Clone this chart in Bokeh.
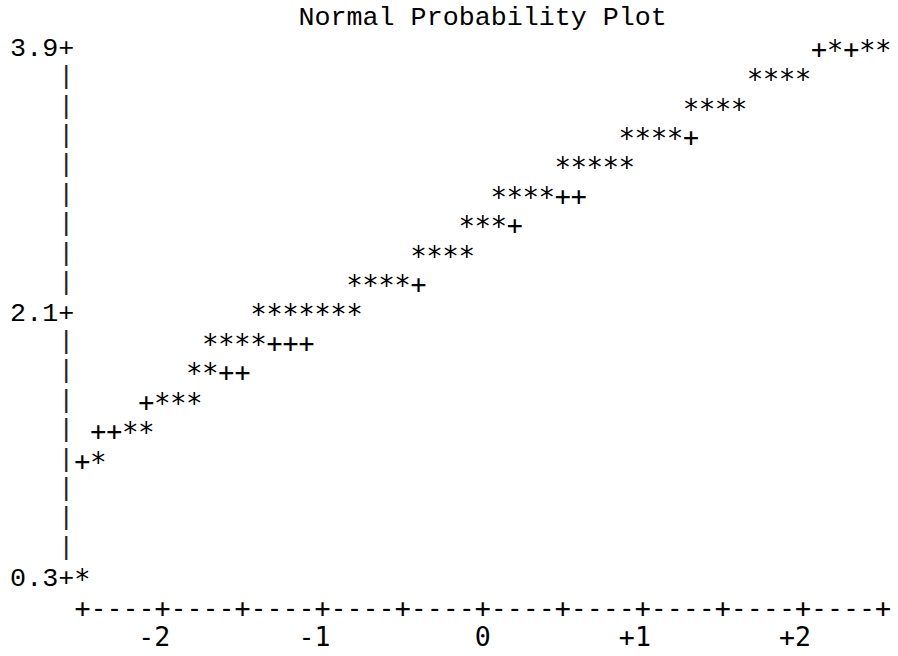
import numpy as np
from bokeh.plotting import figure
from bokeh.models import Range1d
from bokeh.embed import file_html
from bokeh.resources import INLINE
from bokeh.core.properties import value

TITLE = "Normal Probability Plot"

# labelled y ticks (data values)
y_ticks = [3.9, 2.1, 0.3]
y_tick_labels = ["3.9", "2.1", "0.3"]
# x axis: normal quantiles
x_ticks = [-2, -1, 0, 1, 2]
x_tick_labels = ["-2", "-1", "0", "+1", "+2"]

# observed data points ('*'): normal quantile, value
star_q = [2.2, 2.4, 2.5,
          1.7, 1.8, 1.9, 2.0,
          1.3, 1.4, 1.5, 1.6,
          0.9, 1.0, 1.1, 1.2,
          0.5, 0.6, 0.7, 0.8, 0.9,
          0.1, 0.2, 0.3, 0.4,
          -0.1, 0.0, 0.1,
          -0.4, -0.3, -0.2, -0.1,
          -0.8, -0.7, -0.6, -0.5,
          -1.4, -1.3, -1.2, -1.1, -1.0, -0.9, -0.8,
          -1.7, -1.6, -1.5, -1.4,
          -1.8, -1.7,
          -2.0, -1.9, -1.8,
          -2.2, -2.1,
          -2.4,
          -2.5]
star_v = [3.9, 3.9, 3.9,
          3.7, 3.7, 3.7, 3.7,
          3.5, 3.5, 3.5, 3.5,
          3.3, 3.3, 3.3, 3.3,
          3.1, 3.1, 3.1, 3.1, 3.1,
          2.9, 2.9, 2.9, 2.9,
          2.7, 2.7, 2.7,
          2.5, 2.5, 2.5, 2.5,
          2.3, 2.3, 2.3, 2.3,
          2.1, 2.1, 2.1, 2.1, 2.1, 2.1, 2.1,
          1.9, 1.9, 1.9, 1.9,
          1.7, 1.7,
          1.5, 1.5, 1.5,
          1.3, 1.3,
          1.1,
          0.3]

# normal reference line ('+')
ref_q = [2.1, 2.3, 1.3, 0.5, 0.6, 0.2, -0.4, -1.3, -1.2, -1.1,
         -1.6, -1.5, -2.1, -2.4, -2.3, -2.5]
ref_v = [3.9, 3.9, 3.3, 2.9, 2.9, 2.7, 2.3, 1.9, 1.9, 1.9,
         1.7, 1.7, 1.5, 1.3, 1.3, 1.1]

# character grid of the line-printer plot
ROW = 0.2      # value per text row
COL = 0.1      # quantile per text column
Q_MIN, Q_MAX = -2.5, 2.5

SERIF_MONO = value("Liberation Mono")
SANS_MONO = value("DejaVu Sans Mono")
FS_SERIF = "26.7px"
FS_SANS = "26.6px"

p = figure(width=898, height=656, output_backend="svg", toolbar_location=None,
           x_range=Range1d(-3.0099, 2.5956), y_range=Range1d(-0.2394, 4.2217),
           x_axis_type=None, y_axis_type=None, min_border=0)
p.grid.visible = False
p.outline_line_color = None
p.background_fill_color = "white"
p.border_fill_color = "white"

common = dict(text_color="black", text_baseline="middle")

# title
p.text([0.0], [max(y_ticks) + ROW], text=value(TITLE), text_font=SERIF_MONO,
       text_font_size=FS_SERIF, text_align="center", **common)

# y axis: '|' rows, '+' at labelled ticks
axis_q = Q_MIN - COL
rows = np.round(np.arange(min(y_ticks), max(y_ticks) + ROW / 2, ROW), 1)
bar_rows = [r for r in rows if not any(abs(r - t) < 1e-6 for t in y_ticks)]
p.text([axis_q] * len(bar_rows), bar_rows, text=value("|"), text_font=SERIF_MONO,
       text_font_size=FS_SERIF, text_align="center", text_color="#222222",
       text_baseline="middle")
p.text([axis_q] * len(y_ticks), y_ticks, text=value("+"), text_font=SERIF_MONO,
       text_font_size=FS_SERIF, text_align="center", **common)
p.text([axis_q - COL / 2] * len(y_ticks), y_ticks, text=y_tick_labels,
       text_font=SERIF_MONO, text_font_size=FS_SERIF, text_align="right", **common)

# x axis line made of '+' and '-'
n_cols = int(round((Q_MAX - Q_MIN) / COL)) + 1
axis_str = "".join("+" if k % 5 == 0 else "-" for k in range(n_cols))
x_axis_v = min(y_ticks) - ROW
p.text([(Q_MIN + Q_MAX) / 2], [x_axis_v], text=value(axis_str), text_font=SANS_MONO,
       text_font_size=FS_SANS, text_align="center", **common)
p.text([t + COL / 2 for t in x_ticks], [x_axis_v - ROW] * len(x_ticks),
       text=x_tick_labels, text_font=SANS_MONO, text_font_size=FS_SANS,
       text_align="right", **common)

# data
p.text(star_q, star_v, text=value("*"), text_font=SANS_MONO, text_font_size="27.5px",
       text_align="center", y_offset=2, **common)
p.text(ref_q, ref_v, text=value("+"), text_font=SANS_MONO, text_font_size=FS_SANS,
       text_align="center", **common)

open("out.html", "w").write(file_html(p, INLINE))
